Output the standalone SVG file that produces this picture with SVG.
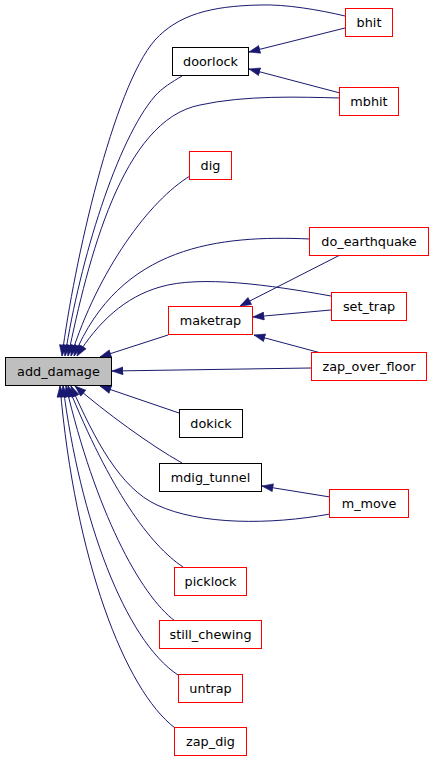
<svg xmlns="http://www.w3.org/2000/svg" width="435" height="761" viewBox="0 0 435 761">
<style>
.n rect{fill:#ffffff;stroke-width:1}
.red rect{stroke:#ff0000}
.blk rect{stroke:#000000}
.cur rect{fill:#bfbfbf;stroke:#000000}
text{font-family:"DejaVu Sans",sans-serif;font-size:12.8px;fill:#000000;text-anchor:middle}
.e path{fill:none;stroke:#191970;stroke-width:1;marker-end:url(#ah)}
</style>
<defs>
<marker id="ah" markerUnits="userSpaceOnUse" markerWidth="12" markerHeight="9" viewBox="0 0 11.5 8.5" refX="11" refY="4.25" orient="auto">
<path d="M0.5,0.5 L11,4.25 L0.5,8 z" fill="#191970" stroke="#191970" stroke-width="0.6"/>
</marker>
</defs>
<rect width="435" height="761" fill="#ffffff"/>
<g id="edges" class="e">
<path d="M345,16 C320,10 285,4 260,5 C210,6 178,15 155,40 C113,88 74,263 62,356"/>
<path d="M345,28 L249,52"/>
<path d="M340,93 L249,69"/>
<path d="M182,76 C172,82 162,88 155,96 C117,140 80,260 65,356"/>
<path d="M340,98 C300,97 245,95 200,105 C122,120 88,260 68,356"/>
<path d="M190,176 C150,200 98,270 71,356"/>
<path d="M310,239 C220,235 120,245 74,356"/>
<path d="M340,255 L240,306"/>
<path d="M331,296 C270,285 200,275 160,287 C125,297 98,322 77,356"/>
<path d="M331,310 L253,317"/>
<path d="M168,335 L100,357"/>
<path d="M321,353 L254,335"/>
<path d="M311,368 L112,371"/>
<path d="M179,413 L100,386"/>
<path d="M182,463 C150,445 105,412 75,386"/>
<path d="M330,497 L262,486"/>
<path d="M330,514 C270,525 200,525 157,505 C120,488 95,440 71,386"/>
<path d="M183,567 C150,545 110,490 68,386"/>
<path d="M175,621 C140,595 95,510 66,386"/>
<path d="M178,675 C125,640 80,520 63,386"/>
<path d="M175,728 C125,690 75,560 60,386"/>
</g>
<g id="add_damage" class="n cur"><rect x="5.5" y="357.5" width="106" height="28"/><text x="58.5" y="376">add_damage</text></g>
<g id="bhit" class="n red"><rect x="345.5" y="8.5" width="47" height="28"/><text x="369" y="27">bhit</text></g>
<g id="doorlock" class="n blk"><rect x="172.5" y="47.5" width="76" height="28"/><text x="210.5" y="66">doorlock</text></g>
<g id="mbhit" class="n red"><rect x="339.5" y="87.5" width="59" height="28"/><text x="369" y="106">mbhit</text></g>
<g id="dig" class="n red"><rect x="189.5" y="151.5" width="42" height="28"/><text x="210.5" y="170">dig</text></g>
<g id="do_earthquake" class="n red"><rect x="309.5" y="227.5" width="119" height="28"/><text x="369" y="246">do_earthquake</text></g>
<g id="set_trap" class="n red"><rect x="331.5" y="292.5" width="75" height="28"/><text x="369" y="311">set_trap</text></g>
<g id="maketrap" class="n red"><rect x="168.5" y="306.5" width="84" height="28"/><text x="210.5" y="325">maketrap</text></g>
<g id="zap_over_floor" class="n red"><rect x="311.5" y="352.5" width="115" height="28"/><text x="369" y="371">zap_over_floor</text></g>
<g id="dokick" class="n blk"><rect x="179.5" y="409.5" width="63" height="28"/><text x="211" y="428">dokick</text></g>
<g id="mdig_tunnel" class="n blk"><rect x="159.5" y="463.5" width="102" height="28"/><text x="210.5" y="482">mdig_tunnel</text></g>
<g id="m_move" class="n red"><rect x="329.5" y="489.5" width="79" height="28"/><text x="369" y="508">m_move</text></g>
<g id="picklock" class="n red"><rect x="174.5" y="567.5" width="72" height="28"/><text x="210.5" y="586">picklock</text></g>
<g id="still_chewing" class="n red"><rect x="159.5" y="620.5" width="102" height="28"/><text x="210.5" y="639">still_chewing</text></g>
<g id="untrap" class="n red"><rect x="178.5" y="674.5" width="64" height="28"/><text x="210.5" y="693">untrap</text></g>
<g id="zap_dig" class="n red"><rect x="174.5" y="727.5" width="72" height="28"/><text x="210.5" y="746">zap_dig</text></g>
</svg>
